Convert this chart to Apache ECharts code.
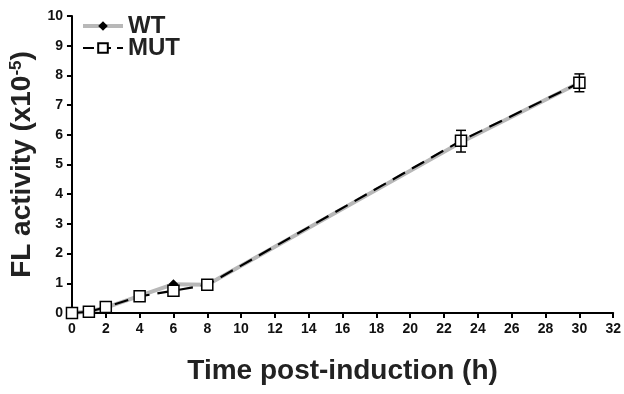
<!DOCTYPE html>
<html>
<head>
<meta charset="utf-8">
<script src="https://cdn.jsdelivr.net/npm/echarts@6/dist/echarts.min.js"></script>
<style>
  html, body {margin: 0; padding: 0; background: #fff;}
  #chart {width: 624px; height: 394px;}
</style>
</head>
<body>
<div id="chart"></div>
<script>
const hours = [0, 1, 2, 4, 6, 8, 23, 30];
const wtValues = [0, 0.05, 0.18, 0.58, 0.97, 0.95, 5.75, 7.75];
const mutValues = [0, 0.04, 0.2, 0.56, 0.75, 0.95, 5.8, 7.75];
const mutErrLow = [0, 0, 0, 0, 0, 0, 5.42, 7.45];
const mutErrHigh = [0, 0, 0, 0, 0, 0, 6.15, 8.05];

const font = 'Liberation Sans, Arial, sans-serif';
const chart = echarts.init(document.getElementById('chart'));

const wtData = hours.map((h, i) => [h, wtValues[i]]);
const mutData = hours.map((h, i) => [h, mutValues[i]]);
const errData = hours.map((h, i) => [h, mutErrLow[i], mutErrHigh[i]])
  .filter(d => d[2] > d[1]);

chart.setOption({
  animation: false,
  grid: {left: 71, right: 6, top: 16, bottom: 81},
  legend: {
    orient: 'vertical',
    left: 76,
    top: 9,
    itemGap: -2,
    itemWidth: 40,
    itemHeight: 12,
    textStyle: {fontFamily: font, fontWeight: 'bold', fontSize: 24, color: '#222'},
    data: [
      {name: 'WT', lineStyle: {width: 4, color: '#b8b8b8'}},
      {name: 'MUT', lineStyle: {width: 2.2, color: '#000', type: [11, 6]}}
    ]
  },
  xAxis: {
    type: 'value',
    min: 0, max: 32, interval: 2,
    name: 'Time post-induction (h)',
    nameLocation: 'middle',
    nameGap: 44,
    nameTextStyle: {fontFamily: font, fontWeight: 'bold', fontSize: 28, color: '#222'},
    axisLine: {lineStyle: {color: '#000', width: 2}},
    axisTick: {show: true, inside: false, length: 5, lineStyle: {width: 2, color: '#000'}},
    axisLabel: {fontFamily: font, fontWeight: 'bold', fontSize: 14, color: '#111', margin: 9},
    splitLine: {show: false}
  },
  yAxis: {
    type: 'value',
    min: 0, max: 10, interval: 1,
    name: '{a|FL activity (x10}{s|-5}{a|)}',
    nameLocation: 'middle',
    nameRotate: 90,
    nameGap: 23,
    nameTextStyle: {
      rich: {
        a: {fontFamily: font, fontWeight: 'bold', fontSize: 28, color: '#222'},
        s: {fontFamily: font, fontWeight: 'bold', fontSize: 17, color: '#222', verticalAlign: 'top', padding: [0, 0, 12, 0]}
      }
    },
    axisLine: {show: true, lineStyle: {color: '#000', width: 2}},
    axisTick: {show: true, inside: false, length: 5, lineStyle: {width: 2, color: '#000'}},
    axisLabel: {fontFamily: font, fontWeight: 'bold', fontSize: 14, color: '#111', margin: 9},
    splitLine: {show: false}
  },
  series: [
    {
      name: 'WT',
      type: 'line',
      data: wtData,
      symbol: 'diamond',
      symbolSize: 10,
      itemStyle: {color: '#000'},
      lineStyle: {color: '#b8b8b8', width: 4},
      z: 2
    },
    {
      name: 'MUT',
      type: 'line',
      data: mutData,
      symbol: 'rect',
      symbolSize: 11,
      itemStyle: {color: '#fff', borderColor: '#000', borderWidth: 1.5},
      lineStyle: {color: '#000', width: 2.2, type: [14, 8]},
      z: 3
    },
    {
      name: 'err',
      type: 'custom',
      data: errData,
      z: 4,
      renderItem: function (params, api) {
        const x = api.coord([api.value(0), 0])[0];
        const lo = api.coord([api.value(0), api.value(1)])[1];
        const hi = api.coord([api.value(0), api.value(2)])[1];
        const w = 5;
        const st = {stroke: '#000', lineWidth: 1.5};
        return {
          type: 'group',
          children: [
            {type: 'line', shape: {x1: x, y1: lo, x2: x, y2: hi}, style: st},
            {type: 'line', shape: {x1: x - w, y1: lo, x2: x + w, y2: lo}, style: st},
            {type: 'line', shape: {x1: x - w, y1: hi, x2: x + w, y2: hi}, style: st}
          ]
        };
      }
    }
  ]
});
</script>
</body>
</html>
